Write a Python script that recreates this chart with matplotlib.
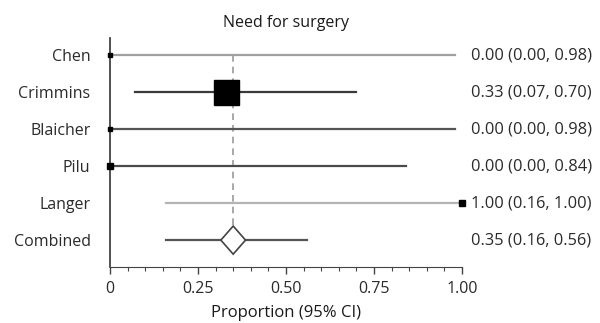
import matplotlib
matplotlib.use("Agg")
import matplotlib.pyplot as plt
import numpy as np

plt.rcParams['font.family'] = ['Open Sans', 'DejaVu Sans']

studies = ["Chen", "Crimmins", "Blaicher", "Pilu", "Langer"]
est = [0.00, 0.33, 0.00, 0.00, 1.00]
lo = [0.00, 0.07, 0.00, 0.00, 0.16]
hi = [0.98, 0.70, 0.98, 0.84, 1.00]
box_size = [3, 18, 3, 5, 4.5]
line_col = ["#a0a0a0", "#3a3a3a", "#555555", "#4a4a4a", "#b4b4b4"]

pooled = 0.35
pooled_lo = 0.16
pooled_hi = 0.56

labels = studies + ["Combined"]
fig, ax = plt.subplots(figsize=(6, 3.23), dpi=100)
fig.subplots_adjust(left=0.1833, right=0.77, bottom=0.173, top=0.882)

ys = -np.arange(len(labels))

ax.plot([pooled, pooled], [ys[0], ys[-1]], color="#999999", lw=1.2,
        ls=(0, (4, 3)), zorder=1)

for i in range(len(studies)):
    ax.plot([lo[i], hi[i]], [ys[i], ys[i]], color=line_col[i], lw=1.6, zorder=2)
    ax.plot(est[i], ys[i], marker="s", color="black", ms=box_size[i],
            zorder=3, clip_on=False)
    ax.text(1.025, ys[i], "%.2f (%.2f, %.2f)" % (est[i], lo[i], hi[i]),
            transform=ax.get_yaxis_transform(), va="center", ha="left",
            fontsize=11.8, color="#2a2a2a")

yc = ys[-1]
ax.plot([pooled_lo, pooled_hi], [yc, yc], color="#555555", lw=1.6, zorder=2)
dw = 0.035
dh = 0.38
ax.fill([pooled - dw, pooled, pooled + dw, pooled],
        [yc, yc + dh, yc, yc - dh], facecolor="white", edgecolor="#444444",
        lw=1.2, zorder=3)
ax.text(1.025, yc, "%.2f (%.2f, %.2f)" % (pooled, pooled_lo, pooled_hi),
        transform=ax.get_yaxis_transform(), va="center", ha="left",
        fontsize=11.8, color="#2a2a2a")

ax.set_xlim(0, 1)
ax.set_ylim(-5.73, 0.46)
ax.set_yticks(ys)
ax.set_yticklabels(labels, fontsize=11.5, color="#2a2a2a")
ax.tick_params(axis="y", length=0, pad=14)
ax.set_xticks([0, 0.25, 0.5, 0.75, 1.0])
ax.set_xticklabels(["0", "0.25", "0.50", "0.75", "1.00"], fontsize=11.5,
                   color="#2a2a2a")
ax.set_xticks(np.arange(0.05, 1.0, 0.05), minor=True)
ax.tick_params(axis="x", which="major", length=5, width=1, color="#444444",
               pad=5)
ax.tick_params(axis="x", which="minor", length=3, width=0.8, color="#444444")
for s in ["top", "right"]:
    ax.spines[s].set_visible(False)
ax.spines["left"].set_color("#333333")
ax.spines["bottom"].set_color("#444444")
ax.spines["left"].set_linewidth(1.2)

ax.set_title("Need for surgery", fontsize=11.5, color="#1a1a1a", pad=8)
ax.set_xlabel("Proportion (95% CI)", fontsize=12, color="#1a1a1a",
              labelpad=6)

fig.savefig("out.png", dpi=100)
